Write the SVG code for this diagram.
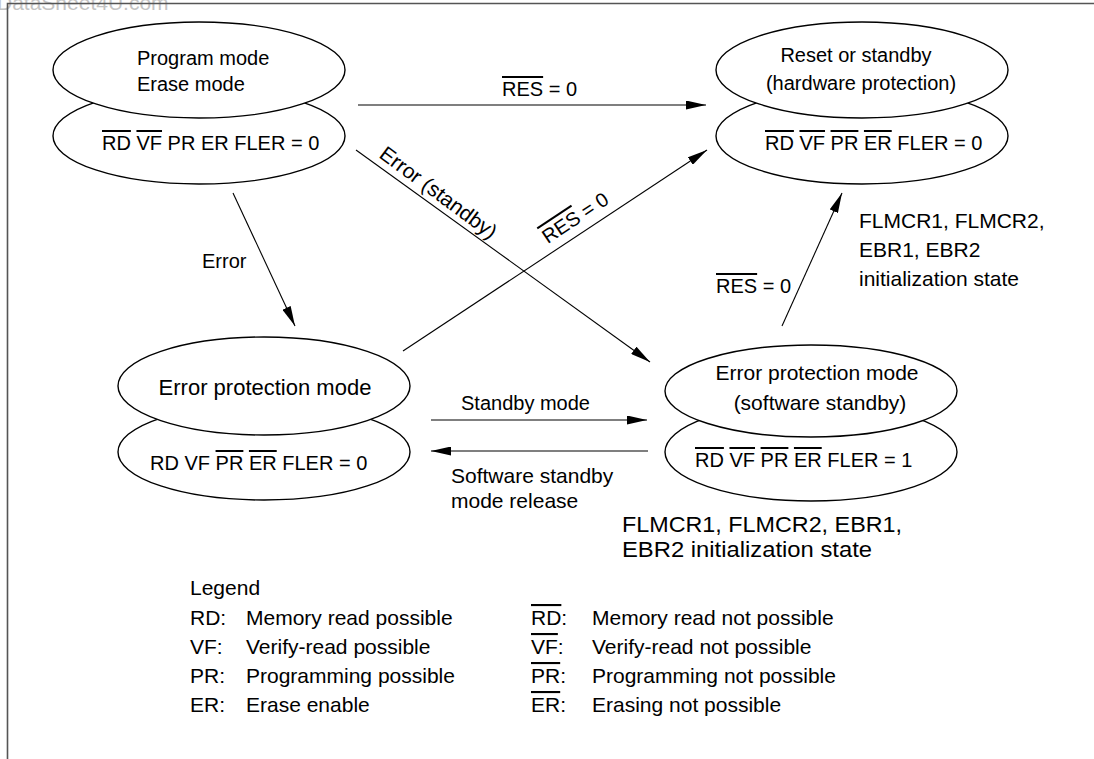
<svg xmlns="http://www.w3.org/2000/svg" width="1094" height="759" viewBox="0 0 1094 759">
<style>
text{font-family:"Liberation Sans",Arial,Helvetica,sans-serif;fill:#000;font-size:20px}
.c{text-anchor:middle}
.ov{text-decoration:overline}
.m21{font-size:21px}
.big{font-size:22px}
.note{font-size:22px}
.lg{font-size:21px}
ellipse{fill:#fff;stroke:#000;stroke-width:1.4}
.ln{stroke:#000;stroke-width:1.1;fill:none}
.frame{stroke:#555;stroke-width:1.6;fill:none}
.wm{fill:#c4c4c4;font-size:21px}
</style>
<defs>
<marker id="ah" viewBox="0 0 20 9" refX="20" refY="4.5" markerWidth="20" markerHeight="9" orient="auto" markerUnits="userSpaceOnUse"><path d="M0,0 L20,4.5 L0,9 z" fill="#000"/></marker>
</defs>
<text class="wm" x="-3" y="10">DataSheet4U.com</text>
<path class="frame" d="M7.5,759 V3.5 H1094"/>

<g id="connectors">
<path class="ln" d="M358,105 H706" marker-end="url(#ah)"/>
<path class="ln" d="M233,193 L295,326" marker-end="url(#ah)"/>
<path class="ln" d="M356,150 L650,362" marker-end="url(#ah)"/>
<path class="ln" d="M403,351 L707,150" marker-end="url(#ah)"/>
<path class="ln" d="M431,420 H647" marker-end="url(#ah)"/>
<path class="ln" d="M648,451 H431" marker-end="url(#ah)"/>
<path class="ln" d="M782,326 L842,193" marker-end="url(#ah)"/>
<text x="502" y="96"><tspan class="ov">RES</tspan> = 0</text>
<text x="202" y="268">Error</text>
<text class="c m21" transform="translate(430,204) rotate(36.5)" y="-7">Error (standby)</text>
<text class="c" transform="translate(584,231) rotate(-33.5)" y="-9"><tspan class="ov">RES</tspan> = 0</text>
<text x="461" y="410">Standby mode</text>
<text class="m21" x="451" y="483">Software standby</text>
<text class="m21" x="451" y="508">mode release</text>
<text x="716" y="293"><tspan class="ov">RES</tspan> = 0</text>
<text class="m21" x="859" y="228">FLMCR1, FLMCR2,</text>
<text class="m21" x="859" y="257">EBR1, EBR2</text>
<text class="m21" x="859" y="286">initialization state</text>
</g>

<g id="node-program">
<ellipse cx="199" cy="136" rx="146" ry="48"/>
<ellipse cx="199" cy="70" rx="146" ry="48"/>
<text x="137" y="65">Program mode</text>
<text x="137" y="91">Erase mode</text>
<text x="102" y="150"><tspan class="ov">RD</tspan> <tspan class="ov">VF</tspan> PR ER FLER = 0</text>
</g>

<g id="node-reset">
<ellipse cx="862" cy="136" rx="146" ry="48"/>
<ellipse cx="862" cy="70" rx="146" ry="48"/>
<text class="c" x="856" y="62">Reset or standby</text>
<text class="c" x="861" y="90">(hardware protection)</text>
<text x="765" y="150"><tspan class="ov">RD</tspan> <tspan class="ov">VF</tspan> <tspan class="ov">PR</tspan> <tspan class="ov">ER</tspan> FLER = 0</text>
</g>

<g id="node-error">
<ellipse cx="264" cy="452" rx="146" ry="48"/>
<ellipse cx="264" cy="386" rx="146" ry="49"/>
<text class="c big" x="265" y="395">Error protection mode</text>
<text x="150" y="470">RD VF <tspan class="ov">PR</tspan> <tspan class="ov">ER</tspan> FLER = 0</text>
</g>

<g id="node-swstandby">
<ellipse cx="811" cy="452" rx="146" ry="49"/>
<ellipse cx="811" cy="391" rx="146" ry="46"/>
<text class="c m21" x="817" y="380">Error protection mode</text>
<text class="c m21" x="820" y="410">(software standby)</text>
<text x="695" y="467"><tspan class="ov">RD</tspan> <tspan class="ov">VF</tspan> <tspan class="ov">PR</tspan> <tspan class="ov">ER</tspan> FLER = 1</text>
</g>

<g id="note">
<text class="note" x="622" y="532" textLength="280" lengthAdjust="spacingAndGlyphs">FLMCR1, FLMCR2, EBR1,</text>
<text class="note" x="622" y="557" textLength="250" lengthAdjust="spacingAndGlyphs">EBR2 initialization state</text>
</g>

<g id="legend">
<text class="lg" x="190" y="595">Legend</text>
<text class="lg" x="190" y="625">RD:</text><text class="lg" x="246" y="625">Memory read possible</text>
<text class="lg" x="190" y="654">VF:</text><text class="lg" x="246" y="654">Verify-read possible</text>
<text class="lg" x="190" y="683">PR:</text><text class="lg" x="246" y="683">Programming possible</text>
<text class="lg" x="190" y="712">ER:</text><text class="lg" x="246" y="712">Erase enable</text>
<text class="lg" x="531" y="625"><tspan class="ov">RD</tspan>:</text><text class="lg" x="592" y="625">Memory read not possible</text>
<text class="lg" x="531" y="654"><tspan class="ov">VF</tspan>:</text><text class="lg" x="592" y="654">Verify-read not possible</text>
<text class="lg" x="531" y="683"><tspan class="ov">PR</tspan>:</text><text class="lg" x="592" y="683">Programming not possible</text>
<text class="lg" x="531" y="712"><tspan class="ov">ER</tspan>:</text><text class="lg" x="592" y="712">Erasing not possible</text>
</g>
</svg>
